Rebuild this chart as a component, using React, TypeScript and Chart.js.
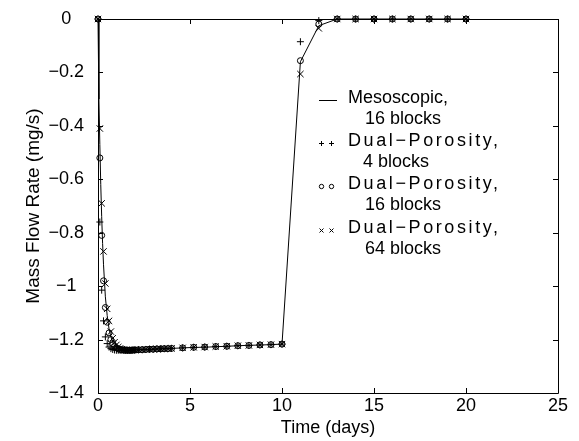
import React, { useEffect, useRef } from "react";
import { Chart, registerables } from "chart.js";

Chart.register(...registerables);

// ---------- data ----------
const xTicks = [0, 5, 10, 15, 20, 25];
const yTicks = [0, -0.2, -0.4, -0.6, -0.8, -1, -1.2, -1.4];

const timeMeso = [
  0, 0.05, 0.1, 0.15, 0.2, 0.25, 0.3, 0.4, 0.5, 0.6, 0.7, 0.8, 0.9, 1.0, 1.2, 1.5,
  2, 3, 4, 5, 6, 7, 8, 9, 10, 11, 12, 13, 14, 15, 16, 17, 18, 19, 20,
];
const flowMeso = [
  0, -0.3, -0.47, -0.62, -0.74, -0.84, -0.92, -1.04, -1.11, -1.16, -1.19, -1.21, -1.222, -1.23, -1.237, -1.24,
  -1.239, -1.236, -1.233, -1.23, -1.228, -1.225, -1.222, -1.22, -1.217, -0.16, -0.025, 0, 0, 0, 0, 0, 0, 0, 0,
];

const timeDP = [
  0, 0.1, 0.2, 0.3, 0.4, 0.5, 0.6, 0.7, 0.8, 0.9, 1.0, 1.1, 1.2, 1.3, 1.4, 1.5, 1.6, 1.7, 1.8, 1.9, 2.0,
  2.2, 2.4, 2.6, 2.8, 3.0, 3.2, 3.4, 3.6, 3.8, 4.0,
  4.6, 5.2, 5.8, 6.4, 7.0, 7.6, 8.2, 8.8, 9.4, 10.0,
  11, 12, 13, 14, 15, 16, 17, 18, 19, 20,
];
const flowDP4 = [
  0, -0.76, -1.015, -1.13, -1.19, -1.215, -1.228, -1.234, -1.237, -1.239, -1.24, -1.24, -1.24, -1.24, -1.24, -1.24, -1.24, -1.24, -1.24, -1.239, -1.239,
  -1.238, -1.238, -1.237, -1.236, -1.236, -1.235, -1.235, -1.234, -1.234, -1.233,
  -1.231, -1.229, -1.228, -1.226, -1.225, -1.223, -1.222, -1.22, -1.219, -1.217,
  -0.085, -0.006, 0, 0, 0, 0, 0, 0, 0, 0,
];
const flowDP16 = [
  0, -0.52, -0.81, -0.98, -1.08, -1.135, -1.175, -1.2, -1.215, -1.225, -1.231, -1.235, -1.237, -1.238, -1.239, -1.24, -1.24, -1.24, -1.24, -1.239, -1.239,
  -1.238, -1.238, -1.237, -1.236, -1.236, -1.235, -1.235, -1.234, -1.234, -1.233,
  -1.231, -1.229, -1.228, -1.226, -1.225, -1.223, -1.222, -1.22, -1.219, -1.217,
  -0.156, -0.019, 0, 0, 0, 0, 0, 0, 0, 0,
];
const flowDP64 = [
  0, -0.41, -0.69, -0.87, -0.99, -1.085, -1.13, -1.17, -1.195, -1.21, -1.22, -1.228, -1.233, -1.236, -1.238, -1.239, -1.24, -1.24, -1.24, -1.239, -1.239,
  -1.238, -1.238, -1.237, -1.236, -1.236, -1.235, -1.235, -1.234, -1.234, -1.233,
  -1.231, -1.229, -1.228, -1.226, -1.225, -1.223, -1.222, -1.22, -1.219, -1.217,
  -0.206, -0.035, 0, 0, 0, 0, 0, 0, 0, 0,
];

const legendLabels = [
  ["Mesoscopic,", "16 blocks"],
  ["Dual\u2212Porosity,", "4 blocks"],
  ["Dual\u2212Porosity,", "16 blocks"],
  ["Dual\u2212Porosity,", "64 blocks"],
];

const FONT = "'Liberation Sans', Arial, Helvetica, sans-serif";

const pts = (xs: number[], ys: number[]) => xs.map((x, i) => ({ x, y: ys[i] }));
const fmt = (v: number) => {
  const r = Math.round(v * 10) / 10;
  return String(r).replace("-", "\u2212");
};

const framePlugin = {
  id: "frame",
  beforeDatasetsDraw(chart: any) {
    const { ctx, chartArea } = chart;
    const { left, right, top, bottom } = chartArea;
    const xs = chart.scales.x;
    const ys = chart.scales.y;
    ctx.save();
    ctx.strokeStyle = "#000";
    ctx.lineWidth = 1;
    ctx.beginPath();
    ctx.rect(Math.round(left) + 0.5, Math.round(top) + 0.5, Math.round(right - left), Math.round(bottom - top));
    ctx.stroke();
    const tl = 5;
    ctx.beginPath();
    xTicks.forEach((t) => {
      const px = Math.round(xs.getPixelForValue(t)) + 0.5;
      ctx.moveTo(px, bottom);
      ctx.lineTo(px, bottom - tl);
      ctx.moveTo(px, top);
      ctx.lineTo(px, top + tl);
    });
    yTicks.forEach((t) => {
      const py = Math.round(ys.getPixelForValue(t)) + 0.5;
      ctx.moveTo(left, py);
      ctx.lineTo(left + tl, py);
      ctx.moveTo(right, py);
      ctx.lineTo(right - tl, py);
    });
    ctx.stroke();
    ctx.restore();
  },
};

const legendPlugin = {
  id: "matlabLegend",
  afterDraw(chart: any) {
    const { ctx, chartArea } = chart;
    const ox = chartArea.left;
    const oy = chartArea.top;
    const markX1 = ox + 223.5;
    const markX2 = ox + 233.5;
    const textX = ox + 250;
    const indentX = ox + 267;
    const rowY = [79, 122, 165, 209];
    const lineGap = 21.5;
    ctx.save();
    ctx.fillStyle = "#000";
    ctx.strokeStyle = "#000";
    ctx.lineWidth = 1;
    ctx.font = `18px ${FONT}`;
    ctx.textBaseline = "middle";
    ctx.textAlign = "left";
    legendLabels.forEach((lbl, i) => {
      const y = oy + rowY[i];
      if (i > 0) (ctx as any).letterSpacing = "2.6px";
      ctx.fillText(lbl[0], textX, y);
      (ctx as any).letterSpacing = "0px";
      ctx.fillText(lbl[1], indentX - (i === 1 ? 2 : 0), y + lineGap);
      const my = Math.round(y + 2) + 0.5;
      ctx.beginPath();
      if (i === 0) {
        ctx.moveTo(ox + 221, my);
        ctx.lineTo(ox + 239, my);
      } else {
        [markX1, markX2].forEach((mx) => {
          if (i === 1) {
            ctx.moveTo(mx - 2.5, my);
            ctx.lineTo(mx + 2.5, my);
            ctx.moveTo(mx, my - 2.5);
            ctx.lineTo(mx, my + 2.5);
          } else if (i === 2) {
            ctx.moveTo(mx + 2.2, my);
            ctx.arc(mx, my, 2.2, 0, Math.PI * 2);
          } else {
            ctx.moveTo(mx - 2, my - 2);
            ctx.lineTo(mx + 2, my + 2);
            ctx.moveTo(mx - 2, my + 2);
            ctx.lineTo(mx + 2, my - 2);
          }
        });
      }
      ctx.stroke();
    });
    ctx.restore();
  },
};

export default function App() {
  const ref = useRef<HTMLCanvasElement | null>(null);
  useEffect(() => {
    document.body.style.margin = "0";
    const canvas = ref.current;
    if (!canvas) return;
    Chart.defaults.font.family = FONT;
    Chart.defaults.font.size = 18;
    Chart.defaults.color = "#000";
    const markerBase = {
      type: "line" as const,
      showLine: false,
      borderColor: "#000",
      backgroundColor: "rgba(0,0,0,0)",
      pointBorderColor: "#000",
      pointBackgroundColor: "rgba(0,0,0,0)",
      pointBorderWidth: 1,
      clip: false as const,
    };
    const chart = new Chart(canvas, {
      type: "line",
      data: {
        datasets: [
          {
            label: "Mesoscopic, 16 blocks",
            data: pts(timeMeso, flowMeso),
            borderColor: "#000",
            borderWidth: 1,
            pointRadius: 0,
            fill: false,
            tension: 0,
            clip: false,
          },
          { ...markerBase, label: "Dual-Porosity, 4 blocks", data: pts(timeDP, flowDP4), pointStyle: "cross", pointRadius: 3.5 },
          { ...markerBase, label: "Dual-Porosity, 16 blocks", data: pts(timeDP, flowDP16), pointStyle: "circle", pointRadius: 3 },
          { ...markerBase, label: "Dual-Porosity, 64 blocks", data: pts(timeDP, flowDP64), pointStyle: "crossRot", pointRadius: 4.5 },
        ] as any,
      },
      options: {
        animation: false,
        responsive: false,
        devicePixelRatio: 1,
        layout: { padding: { left: 0, right: 21, top: 19, bottom: 0 } },
        plugins: { legend: { display: false }, tooltip: { enabled: false } },
        scales: {
          x: {
            type: "linear",
            min: 0,
            max: 25,
            afterBuildTicks: (s: any) => {
              s.ticks = xTicks.map((v) => ({ value: v }));
            },
            afterFit: (s: any) => {
              s.height = 48;
            },
            ticks: { padding: 2, maxRotation: 0, callback: (v: any) => String(v), font: { size: 18 } },
            grid: { display: false, drawTicks: false },
            border: { display: false },
            title: { display: true, text: "Time (days)", font: { size: 18 }, padding: { top: 0, bottom: 2 } },
          },
          y: {
            type: "linear",
            min: -1.4,
            max: 0,
            afterBuildTicks: (s: any) => {
              s.ticks = yTicks.map((v) => ({ value: v }));
            },
            afterFit: (s: any) => {
              s.width = 98;
            },
            ticks: { padding: 7, crossAlign: "center", callback: (v: any) => fmt(Number(v)), font: { size: 18 } },
            grid: {
              display: true,
              drawOnChartArea: false,
              drawTicks: true,
              tickLength: 7,
              color: "rgba(0,0,0,0)",
            },
            border: { display: false },
            title: { display: true, text: "Mass Flow Rate (mg/s)", font: { size: 19 }, padding: { top: 22, bottom: 0 } },
          },
        },
      },
      plugins: [framePlugin, legendPlugin],
    });
    return () => chart.destroy();
  }, []);
  return (
    <div style={{ width: 579, height: 441, position: "relative" }}>
      <canvas ref={ref} width={579} height={441} style={{ width: 579, height: 441, display: "block" }} />
    </div>
  );
}
